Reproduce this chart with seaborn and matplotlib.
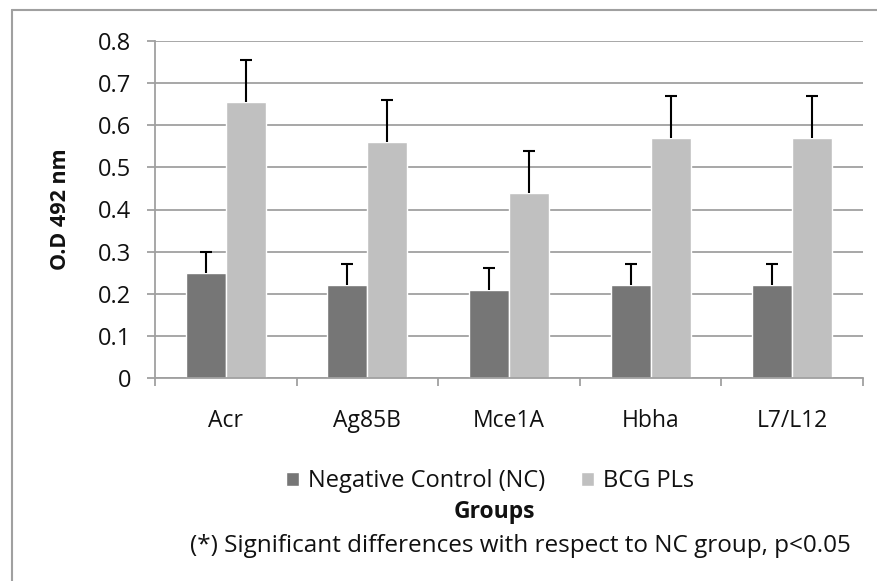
import numpy as np
import pandas as pd
import matplotlib
matplotlib.use("Agg")
import matplotlib.pyplot as plt
import seaborn as sns

# Dados
grupos = ["Acr", "Ag85B", "Mce1A", "Hbha", "L7/L12"]
series = ["Negative Control (NC)", "BCG PLs"]
nc_media = [0.25, 0.22, 0.21, 0.22, 0.22]
nc_erro = [0.05, 0.05, 0.05, 0.05, 0.05]
bcg_media = [0.655, 0.56, 0.44, 0.57, 0.57]
bcg_erro = [0.10, 0.10, 0.10, 0.10, 0.10]
yticks = [0, 0.1, 0.2, 0.3, 0.4, 0.5, 0.6, 0.7, 0.8]
ytick_labels = ["0", "0.1", "0.2", "0.3", "0.4", "0.5", "0.6", "0.7", "0.8"]

df = pd.DataFrame({
    "grupo": grupos * 2,
    "serie": [series[0]] * len(grupos) + [series[1]] * len(grupos),
    "od": nc_media + bcg_media,
})
erros = [nc_erro, bcg_erro]

sns.set_theme(style="white")
plt.rcParams['font.family'] = ['Open Sans', 'DejaVu Sans']

cinza = "#a0a0a0"
texto = "#111111"

fig = plt.figure(figsize=(8.77, 5.81), dpi=100)
ax = fig.add_axes([155 / 877, 1 - 378 / 581, 708 / 877, 337 / 581])

sns.barplot(data=df, x="grupo", y="od", hue="serie", order=grupos, hue_order=series,
            palette=["#767676", "#c0c0c0"], width=0.565, errorbar=None,
            saturation=1, ax=ax, zorder=2, legend=True)

# barras de erro (apenas para cima, sem a tampa de baixo)
for cont, err in zip(ax.containers, erros):
    xs = [b.get_x() + b.get_width() / 2 for b in cont]
    ys = [b.get_height() for b in cont]
    _, caps, _ = ax.errorbar(xs, ys, yerr=[np.zeros(len(err)), err], fmt="none",
                             ecolor="black", elinewidth=1.5, capsize=4.3,
                             capthick=1.5, zorder=3)
    caps[0].set_visible(False)

ax.set_xlim(-0.5, len(grupos) - 0.5)
ax.set_ylim(0, 0.8)
ax.set_yticks(yticks)
ax.set_yticklabels(ytick_labels)
ax.yaxis.grid(True, color=cinza, linewidth=1.3, zorder=0)
ax.set_axisbelow(True)

for s in ["top", "right"]:
    ax.spines[s].set_visible(False)
for s in ["left", "bottom"]:
    ax.spines[s].set_color(cinza)
    ax.spines[s].set_linewidth(1.3)

ax.tick_params(axis="y", left=True, length=6, width=1.3, color=cinza, pad=11,
               labelsize=17, labelcolor=texto)
ax.tick_params(axis="x", which="major", bottom=False, length=0, pad=22,
               labelsize=16.5, labelcolor=texto)
ax.set_xticks(np.arange(-0.5, len(grupos)), minor=True)
ax.tick_params(axis="x", which="minor", bottom=True, length=6, width=1.3, color=cinza)

ax.set_xlabel("")
ax.set_ylabel("O.D 492 nm", fontsize=15.5, fontweight="bold", color=texto)
ax.yaxis.set_label_coords(-0.118, 0.5)

# legenda
handles, labels = ax.get_legend_handles_labels()
ax.get_legend().remove()
fig.legend(handles, labels, loc="center", bbox_to_anchor=(490 / 877, 1 - 481 / 581),
           ncol=2, frameon=False, fontsize=17, handlelength=0.55, handleheight=0.55,
           handletextpad=0.4, columnspacing=1.5, labelcolor=texto)

fig.text(494 / 877, 1 - 512 / 581, "Groups", ha="center", va="center",
         fontsize=16.5, fontweight="bold", color=texto)
fig.text(520 / 877, 1 - 546 / 581,
         "(*) Significant differences with respect to NC group, p<0.05",
         ha="center", va="center", fontsize=17.5, color=texto)

# moldura do gráfico (só esquerda e topo visíveis)
fig.add_artist(plt.Line2D([12 / 877, 12 / 877], [0, 1 - 10 / 581], transform=fig.transFigure,
                          color=cinza, linewidth=1.5))
fig.add_artist(plt.Line2D([12 / 877, 1], [1 - 10 / 581, 1 - 10 / 581], transform=fig.transFigure,
                          color=cinza, linewidth=1.5))

fig.savefig("out.png", dpi=100)
